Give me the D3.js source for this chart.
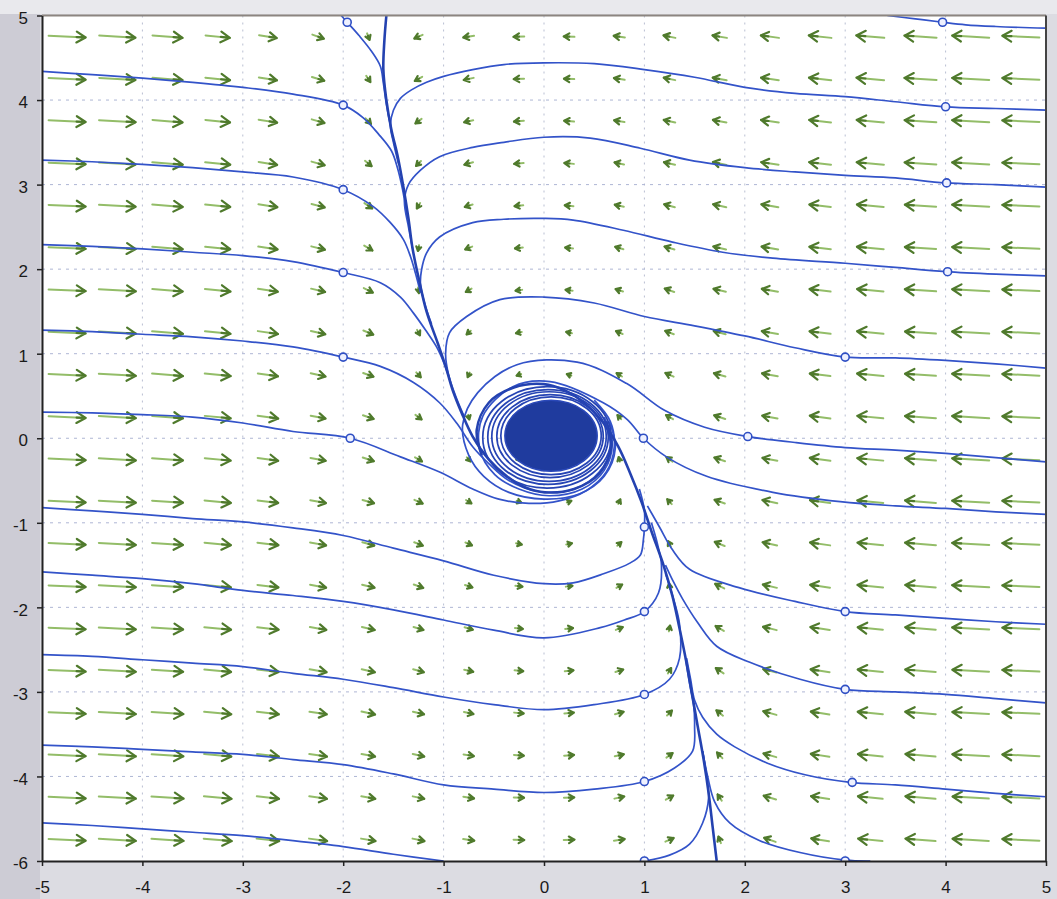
<!DOCTYPE html>
<html>
<head>
<meta charset="utf-8">
<script src="https://cdn.jsdelivr.net/npm/d3@7"></script>
<style>
body { margin: 0; background: #dcdce2; }
svg { display: block; }
</style>
</head>
<body>
<svg width="1057" height="899"></svg>
<script>
// axis setup
const xDomain = [-5, 5];
const yDomain = [-5, 5];
const xTicks = [-5, -4, -3, -2, -1, 0, 1, 2, 3, 4, 5];
const xTickLabels = ["-5", "-4", "-3", "-2", "-1", "0", "1", "2", "3", "4", "5"];
const yTicks = [-5, -4, -3, -2, -1, 0, 1, 2, 3, 4, 5];
const yTickLabels = ["-6", "-4", "-3", "-2", "-1", "0", "1", "2", "3", "4", "5"];
const gridXs = [-4, -3, -2, -1, 0, 1, 2, 3, 4];
const gridYs = [-4, -3, -2, -1, 0, 1, 2, 3, 4];

// direction field grid
const arrowXs = [-4.75, -4.25, -3.75, -3.25, -2.75, -2.25, -1.75, -1.25, -0.75, -0.25,
    0.25, 0.75, 1.25, 1.75, 2.25, 2.75, 3.25, 3.75, 4.25, 4.75];
const arrowYs = [4.75, 4.25, 3.75, 3.25, 2.75, 2.25, 1.75, 1.25, 0.75, 0.25,
    -0.25, -0.75, -1.25, -1.75, -2.25, -2.75, -3.25, -3.75, -4.25, -4.75];

// horizontal part of each arrow (rows top to bottom)
const arrowU = [
    [9, 8.8, 7.3, 5.9, 4.3, 2.8, 0.6, -2.0, -2.6, -2.6, -2.6, -2.7, -2.9, -3.5, -4.4, -5.5, -6.8, -7.8, -9, -9],
    [9, 8.8, 7.3, 6.0, 4.4, 3.0, 1.0, -1.8, -2.4, -2.5, -2.5, -2.6, -2.8, -3.4, -4.3, -5.4, -6.7, -7.8, -9, -9],
    [9, 8.9, 7.3, 6.0, 4.5, 3.1, 1.3, -1.5, -2.2, -2.4, -2.4, -2.5, -2.8, -3.3, -4.3, -5.3, -6.6, -7.7, -9, -9],
    [9, 8.9, 7.4, 6.1, 4.5, 3.2, 1.6, -1.2, -2.1, -2.3, -2.3, -2.3, -2.7, -3.3, -4.2, -5.3, -6.6, -7.7, -9, -9],
    [9, 8.9, 7.4, 6.1, 4.6, 3.2, 1.9, -0.8, -1.9, -2.1, -2.1, -2.2, -2.6, -3.2, -4.1, -5.2, -6.5, -7.6, -9, -9],
    [9, 9, 7.4, 6.1, 4.7, 3.3, 2.0, -0.3, -1.7, -1.9, -1.9, -2.0, -2.4, -3.1, -4.0, -5.2, -6.5, -7.6, -9, -9],
    [9, 9, 7.4, 6.2, 4.8, 3.4, 2.2, 0.2, -1.4, -1.6, -1.7, -1.8, -2.3, -3.0, -3.9, -5.1, -6.4, -7.6, -9, -9],
    [9, 9, 7.5, 6.2, 4.9, 3.5, 2.4, 0.7, -1.0, -1.4, -1.4, -1.6, -2.1, -2.9, -3.9, -5.1, -6.4, -7.5, -9, -9],
    [9, 9, 7.5, 6.3, 4.9, 3.6, 2.5, 1.1, -0.5, -1.1, -1.1, -1.3, -2.0, -2.8, -3.8, -5.0, -6.4, -7.5, -9, -9],
    [9, 9, 7.5, 6.3, 5.0, 3.6, 2.6, 1.5, 0.3, -0.6, -0.6, -0.9, -1.7, -2.7, -3.7, -5.0, -6.3, -7.5, -9, -9],
    [9, 9, 7.5, 6.3, 5.0, 3.7, 2.7, 1.7, 0.9, 0.6, 0.6, -0.3, -1.5, -2.6, -3.6, -5.0, -6.3, -7.5, -9, -9],
    [9, 9, 7.5, 6.4, 5.0, 3.8, 2.8, 2.0, 1.3, 1.1, 1.1, 0.5, -1.1, -2.5, -3.6, -4.9, -6.3, -7.5, -9, -9],
    [9, 9, 7.5, 6.4, 5.1, 3.9, 2.9, 2.1, 1.6, 1.4, 1.4, 1.0, -0.7, -2.4, -3.5, -4.9, -6.2, -7.5, -9, -9],
    [9, 9, 7.6, 6.4, 5.1, 3.9, 3.0, 2.3, 1.8, 1.7, 1.6, 1.4, -0.2, -2.2, -3.4, -4.8, -6.2, -7.4, -9, -9],
    [9, 9, 7.6, 6.5, 5.2, 4.0, 3.1, 2.4, 2.0, 1.9, 1.9, 1.7, 0.3, -2.0, -3.3, -4.7, -6.1, -7.4, -9, -9],
    [9, 9, 7.6, 6.5, 5.2, 4.1, 3.2, 2.6, 2.2, 2.1, 2.1, 1.9, 0.8, -1.9, -3.2, -4.6, -6.1, -7.4, -8.9, -9],
    [9, 9, 7.7, 6.6, 5.3, 4.2, 3.3, 2.7, 2.3, 2.3, 2.3, 2.1, 1.2, -1.6, -3.2, -4.5, -6.1, -7.4, -8.9, -9],
    [9, 9, 7.7, 6.6, 5.3, 4.3, 3.3, 2.8, 2.5, 2.4, 2.4, 2.2, 1.5, -1.3, -3.1, -4.5, -6.0, -7.3, -8.9, -9],
    [9, 9, 7.8, 6.7, 5.4, 4.3, 3.4, 2.8, 2.6, 2.5, 2.5, 2.4, 1.8, -1.0, -3.0, -4.4, -6.0, -7.3, -8.8, -9],
    [9, 9, 7.8, 6.8, 5.5, 4.4, 3.5, 2.9, 2.7, 2.6, 2.6, 2.6, 2.0, -0.6, -2.8, -4.3, -5.9, -7.3, -8.8, -9]
];

// vertical part of each arrow (rows top to bottom)
const arrowV = [
    [-0.4, -0.5, -0.6, -0.6, -0.7, -1.0, -1.6, -0.9, -0.4, -0.1, 0.1, 0.4, 0.6, 0.6, 0.6, 0.6, 0.6, 0.5, 0.5, 0.4],
    [-0.4, -0.5, -0.6, -0.6, -0.7, -0.9, -1.5, -1.0, -0.5, -0.1, 0.1, 0.4, 0.6, 0.6, 0.6, 0.6, 0.6, 0.5, 0.5, 0.4],
    [-0.4, -0.5, -0.6, -0.6, -0.7, -0.9, -1.4, -1.1, -0.5, -0.2, 0.2, 0.4, 0.6, 0.6, 0.6, 0.6, 0.6, 0.5, 0.5, 0.4],
    [-0.4, -0.5, -0.6, -0.6, -0.7, -0.9, -1.3, -1.2, -0.6, -0.2, 0.2, 0.5, 0.6, 0.7, 0.6, 0.6, 0.6, 0.5, 0.5, 0.4],
    [-0.4, -0.5, -0.6, -0.6, -0.7, -0.8, -1.3, -1.3, -0.6, -0.2, 0.2, 0.5, 0.7, 0.7, 0.7, 0.6, 0.6, 0.5, 0.5, 0.4],
    [-0.4, -0.5, -0.6, -0.6, -0.7, -0.8, -1.2, -1.4, -0.7, -0.2, 0.2, 0.6, 0.7, 0.7, 0.7, 0.6, 0.6, 0.5, 0.5, 0.4],
    [-0.4, -0.5, -0.6, -0.6, -0.7, -0.8, -1.1, -1.4, -0.8, -0.2, 0.2, 0.6, 0.8, 0.7, 0.7, 0.6, 0.6, 0.5, 0.5, 0.4],
    [-0.4, -0.5, -0.6, -0.6, -0.7, -0.8, -1.0, -1.3, -0.9, -0.3, 0.3, 0.7, 0.8, 0.8, 0.7, 0.6, 0.6, 0.5, 0.5, 0.4],
    [-0.4, -0.5, -0.6, -0.6, -0.7, -0.8, -0.9, -1.2, -1.1, -0.4, 0.4, 0.8, 0.9, 0.8, 0.7, 0.6, 0.6, 0.5, 0.5, 0.4],
    [-0.4, -0.5, -0.6, -0.6, -0.7, -0.7, -0.9, -1.1, -1.1, -0.6, 0.6, 1.0, 1.0, 0.9, 0.7, 0.7, 0.6, 0.5, 0.5, 0.4],
    [-0.4, -0.5, -0.5, -0.6, -0.7, -0.7, -0.9, -1.0, -1.0, -0.6, 0.6, 1.1, 1.1, 0.9, 0.7, 0.7, 0.6, 0.6, 0.5, 0.4],
    [-0.4, -0.5, -0.5, -0.6, -0.6, -0.7, -0.8, -0.9, -0.8, -0.4, 0.4, 1.1, 1.2, 0.9, 0.8, 0.7, 0.6, 0.6, 0.5, 0.4],
    [-0.4, -0.5, -0.5, -0.6, -0.6, -0.7, -0.8, -0.8, -0.7, -0.3, 0.3, 0.9, 1.3, 1.0, 0.8, 0.7, 0.6, 0.6, 0.5, 0.4],
    [-0.4, -0.5, -0.5, -0.6, -0.6, -0.7, -0.7, -0.8, -0.6, -0.2, 0.2, 0.8, 1.4, 1.1, 0.8, 0.7, 0.6, 0.6, 0.5, 0.4],
    [-0.4, -0.5, -0.5, -0.6, -0.6, -0.7, -0.7, -0.7, -0.6, -0.2, 0.2, 0.7, 1.4, 1.2, 0.8, 0.7, 0.6, 0.6, 0.5, 0.4],
    [-0.4, -0.5, -0.5, -0.6, -0.6, -0.7, -0.7, -0.7, -0.5, -0.2, 0.2, 0.6, 1.3, 1.3, 0.8, 0.7, 0.6, 0.6, 0.5, 0.4],
    [-0.4, -0.5, -0.5, -0.6, -0.6, -0.6, -0.7, -0.6, -0.5, -0.2, 0.2, 0.6, 1.2, 1.3, 0.9, 0.7, 0.6, 0.6, 0.5, 0.4],
    [-0.4, -0.5, -0.5, -0.6, -0.6, -0.6, -0.6, -0.6, -0.4, -0.2, 0.2, 0.5, 1.1, 1.4, 0.9, 0.7, 0.6, 0.6, 0.5, 0.4],
    [-0.4, -0.5, -0.5, -0.6, -0.6, -0.6, -0.6, -0.6, -0.4, -0.1, 0.1, 0.5, 1.0, 1.5, 0.9, 0.7, 0.6, 0.6, 0.5, 0.4],
    [-0.4, -0.5, -0.5, -0.6, -0.6, -0.6, -0.6, -0.6, -0.4, -0.1, 0.1, 0.4, 0.9, 1.6, 1.0, 0.7, 0.6, 0.6, 0.5, 0.4]
];

// solution curves as [x, y]
const trajT0 = [[-2.02, 5.0], [-1.96, 4.92], [-1.84, 4.76], [-1.72, 4.58], [-1.63, 4.4], [-1.6, 4.2],
    [-1.57, 3.95], [-1.52, 3.65]];
const trajA1 = [[-5, 4.34], [-4.5, 4.3], [-4, 4.26], [-3.5, 4.21], [-3, 4.15], [-2.5, 4.07], [-2, 3.94],
    [-1.8, 3.79], [-1.65, 3.6], [-1.52, 3.4], [-1.46, 3.2], [-1.41, 2.95], [-1.36, 2.6]];
const trajA2 = [[-5, 3.29], [-4.5, 3.27], [-4, 3.24], [-3.5, 3.2], [-3, 3.15], [-2.5, 3.09], [-2, 2.94],
    [-1.7, 2.74], [-1.53, 2.55], [-1.4, 2.35], [-1.33, 2.15], [-1.28, 1.95], [-1.23, 1.72]];
const trajA3 = [[-5, 2.29], [-4.5, 2.27], [-4, 2.24], [-3.5, 2.2], [-3, 2.16], [-2.5, 2.09], [-2, 1.96],
    [-1.63, 1.84], [-1.43, 1.67], [-1.3, 1.48], [-1.18, 1.28], [-1.07, 1.08], [-1.0, 0.9], [-0.94, 0.7]];
const trajA4 = [[-5, 1.28], [-4.5, 1.26], [-4, 1.23], [-3.5, 1.2], [-3, 1.15], [-2.5, 1.08], [-2, 0.96],
    [-1.63, 0.85], [-1.3, 0.66], [-1.04, 0.42], [-0.87, 0.18], [-0.71, -0.1], [-0.55, -0.3],
    [-0.35, -0.5], [-0.05, -0.63], [0.3, -0.6], [0.55, -0.4], [0.66, -0.1], [0.6, 0.2]];
const trajA5 = [[-5, 0.31], [-4.5, 0.3], [-4, 0.28], [-3.5, 0.25], [-3, 0.18], [-2.5, 0.08], [-1.93, 0.0],
    [-1.43, -0.22], [-1.04, -0.4], [-0.71, -0.6], [-0.45, -0.72], [-0.15, -0.77], [0.15, -0.74],
    [0.42, -0.62], [0.62, -0.4], [0.7, -0.1], [0.66, 0.2], [0.5, 0.45]];
const trajB1 = [[3.42, 5.0], [3.7, 4.96], [3.97, 4.92], [4.2, 4.89], [4.5, 4.87], [5, 4.85]];
const trajB2 = [[5, 3.88], [4.5, 3.9], [4, 3.92], [3.5, 3.98], [3, 4.04], [2.5, 4.08], [2, 4.15], [1.5, 4.27],
    [1, 4.36], [0.5, 4.43], [0, 4.44], [-0.4, 4.42], [-0.71, 4.36], [-1.0, 4.28], [-1.17, 4.21],
    [-1.32, 4.12], [-1.43, 4.02], [-1.5, 3.88], [-1.53, 3.7], [-1.5, 3.5], [-1.45, 3.25]];
const trajB3 = [[5, 2.97], [4.5, 3.0], [4, 3.02], [3.5, 3.08], [3, 3.11], [2.5, 3.15], [2, 3.2], [1.45, 3.29],
    [0.96, 3.43], [0.46, 3.55], [0, 3.56], [-0.4, 3.5], [-0.71, 3.44], [-1.04, 3.33], [-1.23, 3.17],
    [-1.35, 3.0], [-1.39, 2.8], [-1.35, 2.5], [-1.31, 2.25]];
const trajB4 = [[5, 1.92], [4.5, 1.94], [4, 1.97], [3.5, 2.02], [3, 2.07], [2.28, 2.13], [1.78, 2.2],
    [1.28, 2.32], [0.79, 2.46], [0.29, 2.58], [0, 2.6], [-0.4, 2.59], [-0.71, 2.55], [-1.04, 2.38],
    [-1.17, 2.19], [-1.22, 1.99], [-1.23, 1.82], [-1.19, 1.6], [-1.12, 1.35]];
const trajB5 = [[5, 0.83], [4.5, 0.88], [4, 0.92], [3.5, 0.95], [3, 0.96], [2.5, 1.07], [2, 1.21], [1.5, 1.33],
    [1, 1.44], [0.5, 1.6], [0, 1.67], [-0.44, 1.64], [-0.77, 1.44], [-0.94, 1.25], [-0.98, 1.0],
    [-0.95, 0.75], [-0.88, 0.5], [-0.8, 0.27]];
const trajB6 = [[5, -0.28], [4.5, -0.23], [4, -0.18], [3.5, -0.14], [3, -0.11], [2.5, -0.05], [2.03, 0.02],
    [1.6, 0.13], [1.2, 0.33], [0.82, 0.65], [0.33, 0.9], [-0.27, 0.87], [-0.66, 0.54], [-0.81, 0.16],
    [-0.75, -0.2], [-0.6, -0.45], [-0.35, -0.64], [0.0, -0.72], [0.35, -0.66], [0.6, -0.45],
    [0.71, -0.12], [0.65, 0.2]];
const trajE1 = [[5, -0.9], [4.5, -0.87], [4, -0.83], [3.5, -0.8], [2.95, -0.75], [2.28, -0.64], [1.62, -0.45],
    [1.22, -0.22], [0.99, 0.0], [0.83, 0.22], [0.59, 0.42], [0.06, 0.67], [-0.31, 0.61], [-0.61, 0.26],
    [-0.64, -0.13], [-0.49, -0.43], [-0.25, -0.6], [0.05, -0.68], [0.38, -0.6], [0.6, -0.38],
    [0.68, -0.05], [0.6, 0.25]];
const trajD1 = [[-5, -0.82], [-4.5, -0.86], [-4, -0.9], [-3.5, -0.95], [-3, -0.99], [-2.5, -1.06], [-2, -1.15],
    [-1.5, -1.3], [-1, -1.45], [-0.5, -1.62], [0, -1.72], [0.29, -1.71], [0.6, -1.6], [0.85, -1.48],
    [0.96, -1.38], [0.99, -1.2], [1.0, -1.05], [1.0, -0.85], [0.95, -0.6]];
const trajD2 = [[-5, -1.58], [-4.5, -1.62], [-4, -1.66], [-3.5, -1.72], [-3, -1.8], [-2.5, -1.86], [-2, -1.93],
    [-1.5, -2.03], [-1, -2.15], [-0.5, -2.27], [0, -2.36], [0.56, -2.24], [0.8, -2.15], [1.0, -2.05],
    [1.14, -1.83], [1.17, -1.5], [1.13, -1.25], [1.07, -1.0]];
const trajD3 = [[-5, -2.56], [-4.5, -2.58], [-4, -2.62], [-3.5, -2.66], [-3, -2.7], [-2.5, -2.78], [-2, -2.85],
    [-1.5, -2.95], [-1, -3.06], [-0.5, -3.15], [0, -3.21], [0.5, -3.15], [1.0, -3.03], [1.25, -2.85],
    [1.35, -2.6], [1.35, -2.2], [1.29, -1.9], [1.21, -1.6]];
const trajD4 = [[-5, -3.63], [-4.5, -3.65], [-4, -3.68], [-3.5, -3.71], [-3, -3.74], [-2.5, -3.8], [-2, -3.86],
    [-1.5, -3.97], [-1, -4.1], [-0.5, -4.15], [0, -4.19], [0.5, -4.15], [1.0, -4.06], [1.3, -3.9],
    [1.48, -3.7], [1.5, -3.4], [1.49, -3.15], [1.45, -2.9], [1.41, -2.6]];
const trajD5 = [[-5, -4.55], [-4.5, -4.58], [-4, -4.62], [-3.5, -4.66], [-3, -4.7], [-2.5, -4.76], [-2, -4.83],
    [-1.5, -4.92], [-1.0, -5.0]];
const trajE2 = [[5, -2.2], [4.5, -2.17], [4, -2.13], [3.5, -2.09], [3, -2.05], [2.5, -1.93], [1.95, -1.77],
    [1.45, -1.55], [1.28, -1.32], [1.15, -1.05], [1.03, -0.8]];
const trajE3 = [[5, -3.13], [4.5, -3.08], [4, -3.03], [3.5, -3.0], [3, -2.97], [2.55, -2.85], [2.05, -2.65],
    [1.72, -2.46], [1.53, -2.18], [1.38, -1.9], [1.29, -1.7], [1.21, -1.5]];
const trajE4 = [[5, -4.24], [4.5, -4.2], [4, -4.15], [3.5, -4.1], [3.05, -4.07], [2.6, -3.98], [2.22, -3.84],
    [1.9, -3.65], [1.72, -3.5], [1.58, -3.3], [1.5, -3.1], [1.46, -2.85], [1.42, -2.6]];
const trajE5 = [[3.25, -5.0], [3.0, -4.99], [2.55, -4.9], [2.15, -4.76], [1.85, -4.55], [1.7, -4.3],
    [1.63, -4.0], [1.58, -3.7]];
const trajE6 = [[1.0, -5.0], [1.25, -4.93], [1.45, -4.8], [1.58, -4.55], [1.64, -4.25], [1.62, -4.0],
    [1.58, -3.7]];

// the two steep curves everything runs into
const upperBundle = [[-1.57, 5.0], [-1.59, 4.7], [-1.6, 4.36], [-1.57, 4.0], [-1.52, 3.65], [-1.46, 3.35],
    [-1.4, 2.97], [-1.35, 2.6], [-1.31, 2.25], [-1.25, 1.9], [-1.17, 1.5], [-1.06, 1.13], [-0.98, 0.85],
    [-0.91, 0.57], [-0.82, 0.3], [-0.71, 0.02], [-0.55, -0.25], [-0.37, -0.45], [-0.19, -0.58],
    [0.01, -0.64], [0.3, -0.6], [0.55, -0.42], [0.67, -0.1], [0.62, 0.2]];
const lowerBundle = [[1.72, -5.0], [1.68, -4.6], [1.64, -4.2], [1.59, -3.8], [1.53, -3.4], [1.47, -3.0],
    [1.41, -2.6], [1.35, -2.25], [1.28, -1.87], [1.19, -1.5], [1.07, -1.1], [0.97, -0.75], [0.86, -0.42],
    [0.74, -0.1], [0.58, 0.2], [0.4, 0.42], [0.2, 0.57], [0.0, 0.64], [-0.3, 0.6], [-0.55, 0.42],
    [-0.67, 0.1], [-0.62, -0.2]];

// start points (small circles)
const startX = [-2, -2, -2, -2, -1.93, -1.96, 3.97, 4, 4.01, 4.02, 3, 2.03, 0.99, 1, 1, 1, 1, 3, 3, 3.07, 3, 1];
const startY = [3.94, 2.94, 1.96, 0.96, 0.0, 4.92, 4.92, 3.92, 3.02, 1.97, 0.96, 0.02, 0.0, -1.05, -2.05, -3.03,
    -4.06, -2.05, -2.97, -4.07, -5.0, -5.0];

// spiral around the origin
const ringCx = [0.03, 0.04, 0.05, 0.06, 0.07];
const ringCy = [0.01, 0.015, 0.02, 0.025, 0.03];
const ringRx = [0.64, 0.6, 0.57, 0.53, 0.5];
const ringRy = [0.6, 0.56, 0.53, 0.49, 0.46];
const blobCenter = [0.07, 0.03];
const blobRadius = [0.46, 0.42];

const svg = d3.select("svg");
const width = 1057;
const height = 899;

// scales
const x = d3.scaleLinear().domain(xDomain).range([42, 1046]);
const y = d3.scaleLinear().domain(yDomain).range([861, 15.5]);
const arrowLen = d3.scaleLinear().domain([0, 9]).range([0, 37]);

// background
svg.append("rect").attr("width", width).attr("height", height).attr("fill", "#dcdce2");
svg.append("rect").attr("width", 40).attr("height", height).attr("fill", "#cdccd5");
svg.append("rect").attr("width", width).attr("height", 14).attr("fill", "#e9e9ed");

svg.append("clipPath").attr("id", "plot")
    .append("rect")
    .attr("x", x(-5)).attr("y", y(5))
    .attr("width", x(5) - x(-5)).attr("height", y(-5) - y(5));

svg.append("rect")
    .attr("x", x(-5)).attr("y", y(5))
    .attr("width", x(5) - x(-5)).attr("height", y(-5) - y(5))
    .attr("fill", "white");

const plot = svg.append("g").attr("clip-path", "url(#plot)");

// dotted grid
plot.selectAll(".vgrid")
    .data(gridXs)
    .enter()
    .append("line")
    .attr("x1", d => x(d)).attr("x2", d => x(d))
    .attr("y1", y(5)).attr("y2", y(-5))
    .attr("stroke", "#b9bfd2")
    .attr("stroke-width", 1)
    .attr("stroke-dasharray", "2,5");

plot.selectAll(".hgrid")
    .data(gridYs)
    .enter()
    .append("line")
    .attr("y1", d => y(d)).attr("y2", d => y(d))
    .attr("x1", x(-5)).attr("x2", x(5))
    .attr("stroke", "#aeb6d4")
    .attr("stroke-width", 1)
    .attr("stroke-dasharray", "3,5");

// arrows
const arrowData = [];
arrowYs.forEach(function(yv, r) {
    arrowXs.forEach(function(xv, c) {
        arrowData.push({ x: xv, y: yv, u: arrowU[r][c], v: arrowV[r][c] });
    });
});

function arrowGeom(d) {
    const cx = x(d.x);
    const cy = y(d.y);
    const dx = arrowLen(d.u);
    const dy = -arrowLen(d.v);
    const len = Math.sqrt(dx * dx + dy * dy);
    const ux = dx / len;
    const uy = dy / len;
    const h = Math.min(9, 0.28 * len + 2.5);
    const w = h * 0.6;
    const tipX = cx + dx / 2;
    const tipY = cy + dy / 2;
    const bx = tipX - ux * h;
    const by = tipY - uy * h;
    return {
        x1: cx - dx / 2, y1: cy - dy / 2, x2: tipX, y2: tipY,
        head: "M" + (bx - uy * w) + "," + (by + ux * w) +
            "L" + tipX + "," + tipY +
            "L" + (bx + uy * w) + "," + (by - ux * w) +
            "M" + bx + "," + by + "L" + tipX + "," + tipY
    };
}

const arrows = plot.selectAll(".arrow")
    .data(arrowData.map(arrowGeom))
    .enter()
    .append("g");

arrows.append("line")
    .attr("x1", d => d.x1).attr("y1", d => d.y1)
    .attr("x2", d => d.x2).attr("y2", d => d.y2)
    .attr("stroke", "#93bd68")
    .attr("stroke-width", 2)
    .attr("stroke-linecap", "round");

arrows.append("path")
    .attr("d", d => d.head)
    .attr("fill", "none")
    .attr("stroke", "#4f7a2c")
    .attr("stroke-width", 2.2)
    .attr("stroke-linecap", "round")
    .attr("stroke-linejoin", "round");

// solution curves
const line = d3.line()
    .x(d => x(d[0]))
    .y(d => y(d[1]))
    .curve(d3.curveCatmullRom.alpha(0.5));

const trajectories = [trajT0, trajA1, trajA2, trajA3, trajA4, trajA5, trajB1, trajB2, trajB3, trajB4,
    trajB5, trajB6, trajE1, trajD1, trajD2, trajD3, trajD4, trajD5, trajE2, trajE3, trajE4, trajE5, trajE6];

plot.selectAll(".traj")
    .data(trajectories)
    .enter()
    .append("path")
    .attr("d", line)
    .attr("fill", "none")
    .attr("stroke", "#3353c9")
    .attr("stroke-width", 1.7);

plot.selectAll(".bundle")
    .data([upperBundle, lowerBundle])
    .enter()
    .append("path")
    .attr("d", line)
    .attr("fill", "none")
    .attr("stroke", "#2442b0")
    .attr("stroke-width", 2.6);

// spiral rings and dense centre
plot.selectAll(".ring")
    .data(ringRx)
    .enter()
    .append("ellipse")
    .attr("cx", (d, i) => x(ringCx[i]))
    .attr("cy", (d, i) => y(ringCy[i]))
    .attr("rx", d => x(d) - x(0))
    .attr("ry", (d, i) => y(0) - y(ringRy[i]))
    .attr("fill", "none")
    .attr("stroke", "#2644b4")
    .attr("stroke-width", 1.7);

plot.append("ellipse")
    .attr("cx", x(blobCenter[0]))
    .attr("cy", y(blobCenter[1]))
    .attr("rx", x(blobRadius[0]) - x(0))
    .attr("ry", y(0) - y(blobRadius[1]))
    .attr("fill", "#1f3b9e")
    .attr("stroke", "#2a48b8")
    .attr("stroke-width", 1.5);

// start point circles
plot.selectAll(".start")
    .data(startX)
    .enter()
    .append("circle")
    .attr("cx", d => x(d))
    .attr("cy", (d, i) => y(startY[i]))
    .attr("r", 4)
    .attr("fill", "#eef1ff")
    .attr("stroke", "#2f4fc4")
    .attr("stroke-width", 1.6);

// frame
svg.append("line")
    .attr("x1", x(-5)).attr("x2", x(5)).attr("y1", y(5)).attr("y2", y(5))
    .attr("stroke", "#8c8580").attr("stroke-width", 2);
svg.append("line")
    .attr("x1", x(5)).attr("x2", x(5)).attr("y1", y(5)).attr("y2", y(-5))
    .attr("stroke", "#444").attr("stroke-width", 2);

// axes
const xAxis = d3.axisBottom(x)
    .tickValues(xTicks)
    .tickFormat((d, i) => xTickLabels[i])
    .tickSize(5)
    .tickSizeOuter(0)
    .tickPadding(15);

const yAxis = d3.axisLeft(y)
    .tickValues(yTicks)
    .tickFormat((d, i) => yTickLabels[i])
    .tickSize(5)
    .tickSizeOuter(0)
    .tickPadding(9);

const gx = svg.append("g")
    .attr("transform", "translate(0," + y(-5) + ")")
    .call(xAxis);

const gy = svg.append("g")
    .attr("transform", "translate(" + x(-5) + ",0)")
    .call(yAxis);

[gx, gy].forEach(function(g) {
    g.select(".domain").attr("stroke", "#222").attr("stroke-width", 2);
    g.selectAll(".tick line").attr("stroke", "#222").attr("stroke-width", 1.5);
    g.selectAll(".tick text")
        .attr("fill", "#1a1a1a")
        .style("font-family", "'Liberation Sans', Arial, sans-serif")
        .style("font-size", "17px");
});
gy.selectAll(".tick text").attr("dy", "0.45em");
</script>
</body>
</html>
